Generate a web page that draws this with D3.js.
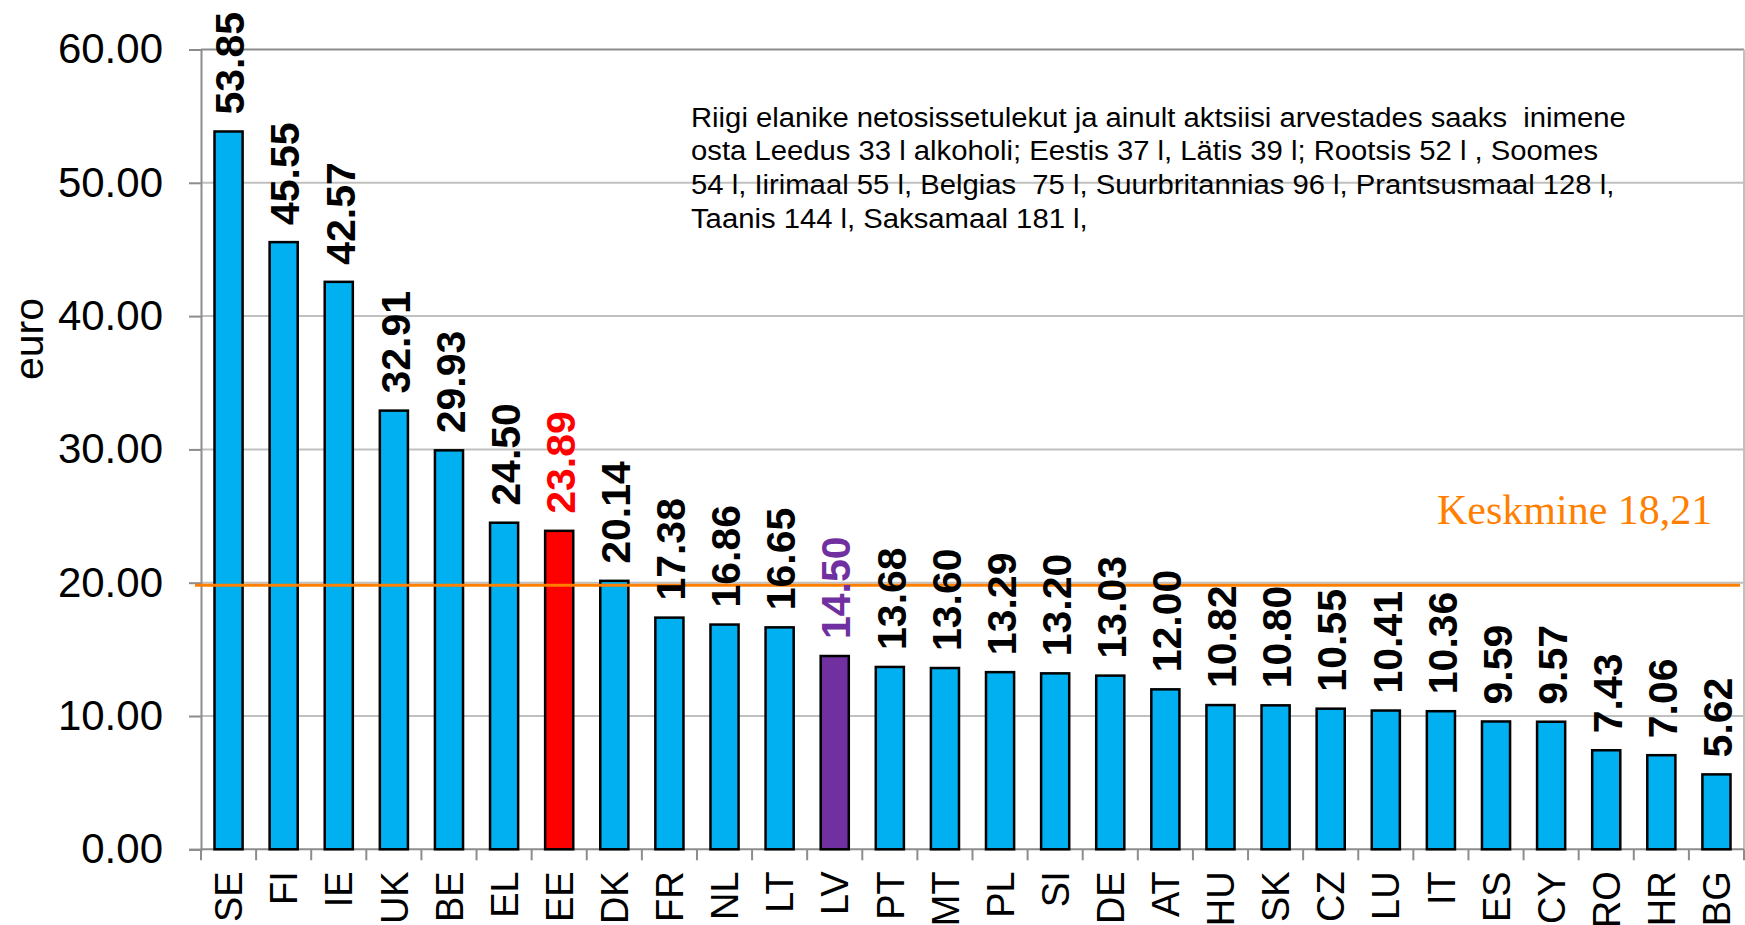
<!DOCTYPE html>
<html><head><meta charset="utf-8">
<script src="https://cdn.jsdelivr.net/npm/d3@7"></script>
<style>body{margin:0;background:#fff}svg{display:block}</style>
</head><body>
<svg id="c" width="1745" height="925"></svg>
<script>
const categories = ["SE","FI","IE","UK","BE","EL","EE","DK","FR","NL","LT","LV","PT","MT","PL","SI","DE","AT","HU","SK","CZ","LU","IT","ES","CY","RO","HR","BG"];
const values = [53.85,45.55,42.57,32.91,29.93,24.50,23.89,20.14,17.38,16.86,16.65,14.50,13.68,13.60,13.29,13.20,13.03,12.00,10.82,10.80,10.55,10.41,10.36,9.59,9.57,7.43,7.06,5.62];
const yTicks = [0,10,20,30,40,50,60];
const meanValue = 19.8;
const meanLabel = "Keskmine 18,21";
const yLabel = "euro";
const noteLines = [
  "Riigi elanike netosissetulekut ja ainult aktsiisi arvestades saaks  inimene",
  "osta Leedus 33 l alkoholi; Eestis 37 l, Lätis 39 l; Rootsis 52 l , Soomes",
  "54 l, Iirimaal 55 l, Belgias  75 l, Suurbritannias 96 l, Prantsusmaal 128 l,",
  "Taanis 144 l, Saksamaal 181 l,"
];
const highlight = {EE:"#FF0000", LV:"#7030A0"};

const svg = d3.select("#c");
const L = 201, R = 1744, T = 49.5, B = 849.3;
const x = d3.scaleBand().domain(categories).range([L, R]).paddingInner(0.49).paddingOuter(0.245);
const y = d3.scaleLinear().domain([0, 60]).range([B, T]);
const step = (R - L) / categories.length;
const sans = "Arial, 'Liberation Sans', sans-serif";

// gridlines
svg.append("g").selectAll("line").data(yTicks.filter(d => d > 0 && d < 60)).join("line")
  .attr("x1", L).attr("x2", R).attr("y1", d => y(d)).attr("y2", d => y(d))
  .attr("stroke", "#c0c0c0").attr("stroke-width", 2);
// top and right border
svg.append("line").attr("x1", L).attr("x2", R).attr("y1", y(60)).attr("y2", y(60)).attr("stroke", "#8c8c8c").attr("stroke-width", 2);
svg.append("line").attr("x1", R).attr("x2", R).attr("y1", T).attr("y2", B).attr("stroke", "#c0c0c0").attr("stroke-width", 2);

// note (fit to the reference width)
const note = svg.append("g");
const noteText = note.selectAll("text").data(noteLines).join("text")
  .attr("x", 0).attr("y", (d, i) => i * 33.8)
  .attr("font-family", sans).attr("font-size", 28).attr("fill", "#000")
  .style("white-space", "pre").text(d => d);
const w0 = noteText.node().getComputedTextLength();
const sx = 935 / w0;
note.attr("transform", `translate(691,126.5) scale(${sx},1)`);

// y axis
const yAxis = svg.append("g").attr("transform", `translate(${L},0)`)
  .call(d3.axisLeft(y).tickValues(yTicks).tickFormat(d3.format(".2f")).tickSize(12).tickPadding(26));
yAxis.select(".domain").attr("stroke", "#8c8c8c").attr("stroke-width", 2);
yAxis.selectAll(".tick line").attr("stroke", "#8c8c8c").attr("stroke-width", 2);
yAxis.selectAll(".tick text").attr("font-family", sans).attr("font-size", 42).attr("fill", "#000");

// x axis
const xAxis = svg.append("g").attr("transform", `translate(0,${B})`)
  .call(d3.axisBottom(x).tickSize(0).tickFormat(d => d));
xAxis.select(".domain").remove();
svg.append("line").attr("x1", L).attr("x2", R).attr("y1", B).attr("y2", B).attr("stroke", "#8c8c8c").attr("stroke-width", 2);
svg.append("g").selectAll("line").data(d3.range(categories.length + 1)).join("line")
  .attr("x1", i => L + i * step).attr("x2", i => L + i * step)
  .attr("y1", B).attr("y2", B + 11).attr("stroke", "#8c8c8c").attr("stroke-width", 2);
xAxis.selectAll(".tick text")
  .attr("font-family", sans).attr("font-size", 38).attr("fill", "#000")
  .attr("text-anchor", "end").attr("transform", "rotate(-90)")
  .attr("x", -22).attr("y", 0).attr("dy", "0.36em");

// bars
svg.append("g").selectAll("rect").data(categories).join("rect")
  .attr("x", d => x(d)).attr("width", x.bandwidth())
  .attr("y", (d, i) => y(values[i])).attr("height", (d, i) => y(0) - y(values[i]))
  .attr("fill", d => highlight[d] || "#00B0F0")
  .attr("stroke", "#000").attr("stroke-width", 2.5);

// mean line
svg.append("line").attr("x1", L - 6).attr("x2", R - 4).attr("y1", y(meanValue)).attr("y2", y(meanValue))
  .attr("stroke", "#FF8000").attr("stroke-width", 3);
svg.append("text").attr("x", 1437).attr("y", 524).text(meanLabel)
  .attr("font-family", "'Times New Roman', 'Liberation Serif', serif").attr("font-size", 42).attr("fill", "#FF8000");

// value labels
svg.append("g").selectAll("text").data(categories).join("text")
  .attr("transform", (d, i) => `translate(${x(d) + x.bandwidth() / 2 + 1},${y(values[i]) - 17}) rotate(-90)`)
  .attr("dy", "0.36em")
  .attr("font-family", sans).attr("font-weight", "bold").attr("font-size", 41)
  .attr("fill", d => highlight[d] || "#000")
  .text((d, i) => d3.format(".2f")(values[i]));

// y label
svg.append("text").attr("transform", "translate(28,339) rotate(-90)").attr("text-anchor", "middle")
  .attr("dy", "0.36em")
  .attr("font-family", sans).attr("font-size", 41).attr("fill", "#000").text(yLabel);
</script>
</body></html>
